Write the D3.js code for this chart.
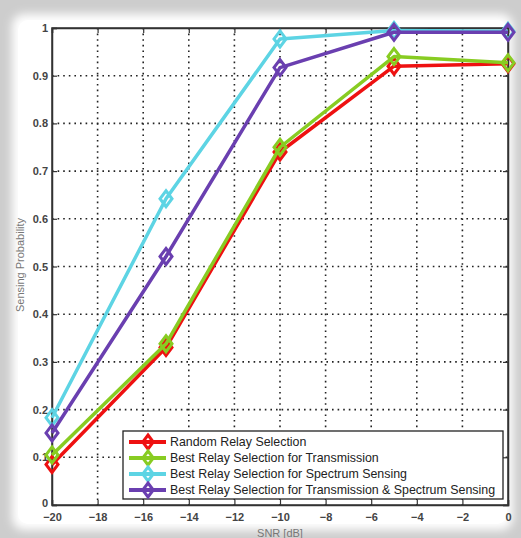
<!DOCTYPE html>
<html><head><meta charset="utf-8">
<script src="https://cdn.jsdelivr.net/npm/d3@7"></script>
<style>html,body{margin:0;padding:0;background:#fff;}svg{display:block;}</style>
</head><body>
<script>
const snr = [-20, -15, -10, -5, 0];
const seriesNames = [
  "Random Relay Selection",
  "Best Relay Selection for Transmission",
  "Best Relay Selection for Spectrum Sensing",
  "Best Relay Selection for Transmission & Spectrum Sensing"
];
const randomRelay = [0.085, 0.33, 0.74, 0.92, 0.925];
const bestTransmission = [0.105, 0.338, 0.75, 0.94, 0.927];
const bestSensing = [0.183, 0.642, 0.977, 0.995, 0.993];
const bestBoth = [0.151, 0.521, 0.917, 0.991, 0.991];
const colors = ["#ee1111", "#88cc22", "#5dd4e4", "#6a3fb0"];
const xTicks = [-20, -18, -16, -14, -12, -10, -8, -6, -4, -2, 0];
const yTicks = [0, 0.1, 0.2, 0.3, 0.4, 0.5, 0.6, 0.7, 0.8, 0.9, 1];

const W = 521, H = 538;
const svg = d3.select("body").append("svg").attr("width", W).attr("height", H);
const defs = svg.append("defs");
const f = defs.append("filter").attr("id", "blur").attr("x", "-10%").attr("y", "-10%").attr("width", "120%").attr("height", "120%");
f.append("feGaussianBlur").attr("stdDeviation", 5);

svg.append("rect").attr("width", W).attr("height", H).attr("fill", "#cdcdcd");
svg.append("rect").attr("x", 12).attr("y", 14).attr("width", W - 20).attr("height", H - 22)
  .attr("rx", 12).attr("fill", "#fff").attr("filter", "url(#blur)");
svg.append("rect").attr("x", 18).attr("y", 20).attr("width", W - 32).attr("height", H - 34)
  .attr("rx", 10).attr("fill", "#fff");

const L = 52, R = 508, T = 28, B = 505;
const x = d3.scaleLinear().domain([-20, 0]).range([L, R]);
const y = d3.scaleLinear().domain([0, 1]).range([B, T]);

const g = svg.append("g");
// grid
g.selectAll(".gx").data(xTicks.slice(1, -1)).join("line")
  .attr("x1", d => x(d)).attr("x2", d => x(d)).attr("y1", T).attr("y2", B)
  .attr("stroke", "#222").attr("stroke-width", 1.6).attr("stroke-dasharray", "1.6,4");
g.selectAll(".gy").data(yTicks.slice(1, -1)).join("line")
  .attr("y1", d => y(d)).attr("y2", d => y(d)).attr("x1", L).attr("x2", R)
  .attr("stroke", "#222").attr("stroke-width", 1.6).attr("stroke-dasharray", "1.6,4");

// axes
const tickFont = g => g.selectAll("text").attr("font-family", "Liberation Sans, Arial, sans-serif")
  .attr("font-size", 11).attr("font-weight", "bold").attr("fill", "#444");
const xAxis = svg.append("g").attr("transform", `translate(0,${B})`)
  .call(d3.axisBottom(x).tickValues(xTicks).tickSize(-5).tickPadding(8).tickFormat(d => d === 0 ? "0" : "\u2212" + Math.abs(d)));
xAxis.call(tickFont);
const yAxis = svg.append("g").attr("transform", `translate(${L},0)`)
  .call(d3.axisLeft(y).tickValues(yTicks).tickSize(-5).tickPadding(4).tickFormat(d => d === 0 ? "0" : d === 1 ? "1" : d3.format(".1f")(d)));
yAxis.call(tickFont);
yAxis.selectAll(".tick").filter(d => d === 0).select("text").attr("dy", "0.1em");
svg.append("g").attr("transform", `translate(0,${T})`)
  .call(d3.axisTop(x).tickValues(xTicks).tickSize(-5).tickFormat(""));
svg.append("g").attr("transform", `translate(${R},0)`)
  .call(d3.axisRight(y).tickValues(yTicks).tickSize(-5).tickFormat(""));
svg.selectAll(".domain").attr("stroke", "#333").attr("stroke-width", 1.5);
svg.selectAll(".tick line").attr("stroke", "#333").attr("stroke-width", 1.2);
svg.append("rect").attr("x", L).attr("y", T).attr("width", R - L).attr("height", B - T)
  .attr("fill", "none").attr("stroke", "#333").attr("stroke-width", 1.5);

svg.append("text").attr("x", 280).attr("y", 537).attr("text-anchor", "middle")
  .attr("font-family", "Liberation Sans, Arial, sans-serif").attr("font-size", 11).attr("fill", "#777")
  .text("SNR [dB]");
svg.append("text").attr("transform", "translate(24,265) rotate(-90)").attr("text-anchor", "middle")
  .attr("font-family", "Liberation Sans, Arial, sans-serif").attr("font-size", 11).attr("fill", "#777")
  .text("Sensing Probability");

// series
const allSeries = [randomRelay, bestTransmission, bestSensing, bestBoth];
const line = d3.line().x((d, i) => x(snr[i])).y(d => y(d));
const diamond = (cx, cy, s) => `M${cx},${cy - s}L${cx + s * 0.75},${cy}L${cx},${cy + s}L${cx - s * 0.75},${cy}Z`;
allSeries.forEach((vals, k) => {
  svg.append("path").datum(vals).attr("d", line).attr("fill", "none")
    .attr("stroke", colors[k]).attr("stroke-width", 3.5).attr("stroke-linejoin", "round");
  svg.selectAll(null).data(vals).join("path")
    .attr("d", (d, i) => diamond(x(snr[i]), y(d), 8))
    .attr("fill", "none").attr("stroke", colors[k]).attr("stroke-width", 3);
});

// legend
const lg = svg.append("g");
lg.append("rect").attr("x", 123).attr("y", 431).attr("width", 380).attr("height", 68)
  .attr("fill", "#fff").attr("stroke", "#222").attr("stroke-width", 1.3);
seriesNames.forEach((name, k) => {
  const cy = 442 + k * 16;
  lg.append("line").attr("x1", 129).attr("x2", 166).attr("y1", cy).attr("y2", cy)
    .attr("stroke", colors[k]).attr("stroke-width", 4);
  lg.append("path").attr("d", diamond(148, cy, 7)).attr("fill", "none")
    .attr("stroke", colors[k]).attr("stroke-width", 3);
  lg.append("text").attr("x", 170).attr("y", cy + 4)
    .attr("font-family", "Liberation Sans, Arial, sans-serif").attr("font-size", 12.4).attr("fill", "#222")
    .text(name);
});
</script>
</body></html>
